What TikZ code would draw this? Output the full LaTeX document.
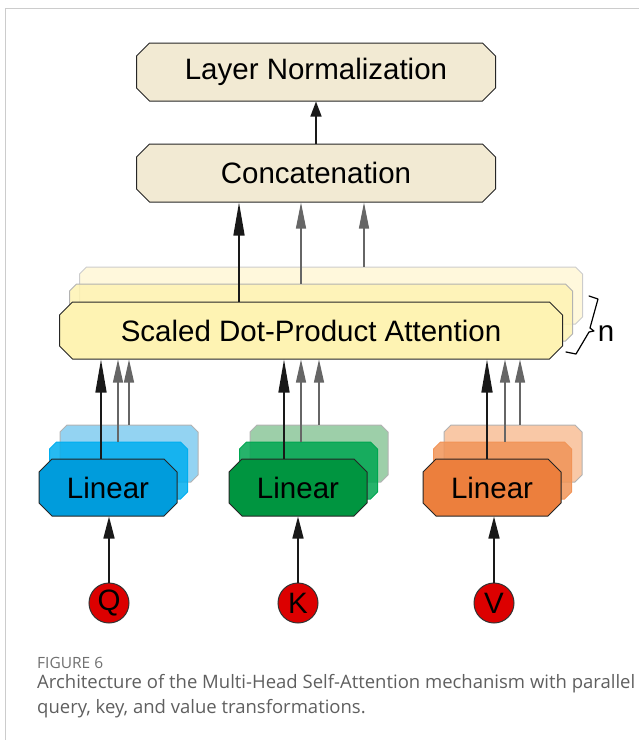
\documentclass[tikz,border=0pt]{standalone}
\usepackage{fontspec}
\newfontfamily\boxfont{Liberation Sans}
\newfontfamily\capfont{Open Sans}
\usetikzlibrary{shapes.misc,shapes.geometric,arrows.meta}

\definecolor{normfill}{HTML}{F2EAD3}
\definecolor{attfill}{HTML}{FEF3B3}
\definecolor{attback}{HTML}{FFF7D6}
\definecolor{qfront}{HTML}{009CDC}
\definecolor{qmid}{HTML}{00AEEF}
\definecolor{qback}{HTML}{80CBF0}
\definecolor{kfront}{HTML}{009540}
\definecolor{kmid}{HTML}{00A651}
\definecolor{kback}{HTML}{8CC79A}
\definecolor{vfront}{HTML}{EC7F3D}
\definecolor{vmid}{HTML}{F19457}
\definecolor{vback}{HTML}{F8BE96}
\definecolor{inred}{HTML}{DC0000}
\definecolor{captext}{HTML}{5F5F5F}

\tikzset{
  block/.style={chamfered rectangle,chamfered rectangle xsep=7pt,chamfered rectangle ysep=6pt,
    inner sep=0pt,line width=1pt,font=\boxfont\fontsize{29.5}{32}\selectfont},
  wide/.style={block,minimum width=359pt,minimum height=58pt,draw=black!85,fill=normfill},
  attn/.style={block,minimum width=503pt,minimum height=57pt},
  lin/.style={block,minimum width=138pt,minimum height=57pt},
  backlayer/.style={draw=gray!60,fill opacity=0.85},
  token/.style={circle,minimum size=40pt,inner sep=0pt,draw=black!80,
    line width=1pt,fill=inred,font=\boxfont\fontsize{29.5}{32}\selectfont},
  mainarrow/.style={-{Triangle[length=#1,width=11pt]},line width=1.5pt,black!90},
  sidearrow/.style={-{Triangle[length=#1,width=10pt]},line width=1.2pt,black!60},
}

\begin{document}
\begin{tikzpicture}[x=1pt,y=-1pt]
        \useasboundingbox (0,0) rectangle (639,740);

        % Frame
        \draw[gray!40,line width=1pt] (5,740) -- (5,8) -- (639,8);

        % Top blocks
        \node[wide] (ln) at (316,72) {Layer Normalization};
        \node[wide] (concat) at (316,173) {Concatenation};

        % Attention heads (back to front)
        \node[attn,backlayer,fill=attback,draw=gray!40] (sdpa3) at (331,295.5) {\strut};
        \node[attn,backlayer,fill=attfill] (sdpa2) at (321,312.5) {\strut};
        \node[attn,draw=black!85,fill=attfill] (sdpa) at (311,330.5) {Scaled Dot-Product Attention};

        % Linear projections
        \node[lin,backlayer,fill=qback] (q3) at (129,453.5) {\strut};
        \node[lin,backlayer,fill=qmid,draw=qmid] (q2) at (118.5,470.5) {\strut};
        \node[lin,draw=black!85,fill=qfront] (q1) at (108,487.5) {Linear};

        \node[lin,backlayer,fill=kback] (k3) at (319,453.5) {\strut};
        \node[lin,backlayer,fill=kmid,draw=kmid] (k2) at (308.5,470.5) {\strut};
        \node[lin,draw=black!85,fill=kfront] (k1) at (298,487.5) {Linear};

        \node[lin,backlayer,fill=vback] (v3) at (513,453.5) {\strut};
        \node[lin,backlayer,fill=vmid,draw=vmid] (v2) at (502.5,470.5) {\strut};
        \node[lin,draw=black!85,fill=vfront] (v1) at (492,487.5) {Linear};

        % Inputs
        \node[token] (Q) at (109,603) {Q};
        \node[token] (K) at (298,603) {K};
        \node[token] (V) at (494,603) {V};

        % Inputs into linear layers
        \draw[mainarrow=22pt] (Q.north) -- (Q.north |- q1.south);
        \draw[mainarrow=22pt] (K.north) -- (K.north |- k1.south);
        \draw[mainarrow=22pt] (V.north) -- (V.north |- v1.south);

        % Linear layers into attention
        \coordinate (qa) at (101,0);
        \coordinate (qb) at (118,0);
        \coordinate (qc) at (129,0);
        \coordinate (ka) at (284,0);
        \coordinate (kb) at (301,0);
        \coordinate (kc) at (319,0);
        \coordinate (va) at (487,0);
        \coordinate (vb) at (505,0);
        \coordinate (vc) at (520,0);
        \draw[mainarrow=33pt] (q1.north -| qa) -- (sdpa.south -| qa);
        \draw[sidearrow=23pt] (q2.north -| qb) -- (sdpa.south -| qb);
        \draw[sidearrow=23pt] (q3.north -| qc) -- (sdpa.south -| qc);
        \draw[mainarrow=33pt] (k1.north -| ka) -- (sdpa.south -| ka);
        \draw[sidearrow=23pt] (k2.north -| kb) -- (sdpa.south -| kb);
        \draw[sidearrow=23pt] (k3.north -| kc) -- (sdpa.south -| kc);
        \draw[mainarrow=33pt] (v1.north -| va) -- (sdpa.south -| va);
        \draw[sidearrow=23pt] (v2.north -| vb) -- (sdpa.south -| vb);
        \draw[sidearrow=23pt] (v3.north -| vc) -- (sdpa.south -| vc);

        % Heads into concatenation
        \coordinate (ha) at (239,0);
        \coordinate (hb) at (301,0);
        \coordinate (hc) at (364,0);
        \draw[mainarrow=33pt] (sdpa.north -| ha) -- (concat.south -| ha);
        \draw[sidearrow=26pt] (sdpa2.north -| hb) -- (concat.south -| hb);
        \draw[sidearrow=26pt] (sdpa3.north -| hc) -- (concat.south -| hc);

        % Concatenation into normalization
        \draw[mainarrow=15pt] (concat.north) -- (ln.south);

        % n heads
        \draw[line width=1.2pt,line join=round,line cap=round] (589,296) -- (598,299) -- (590,328) -- (594,331)
          -- (589,332) -- (576,354) -- (566,352);
        \node[font=\boxfont\fontsize{29.5}{32}\selectfont,inner sep=0pt] (nlab) at (606,334) {n};

        % Caption
        \node[anchor=base west,inner sep=0pt,text=captext!90,font=\capfont\fontsize{15.5}{17}\selectfont] (fig) at (37,668) {FIGURE 6};
        \node[anchor=base west,inner sep=0pt,text=captext,align=left,font=\capfont\fontsize{18.5}{25}\selectfont] (cap) at (37,713)
          {Architecture of the Multi-Head Self-Attention mechanism with parallel\\query, key, and value transformations.};
      \end{tikzpicture}
\end{document}
